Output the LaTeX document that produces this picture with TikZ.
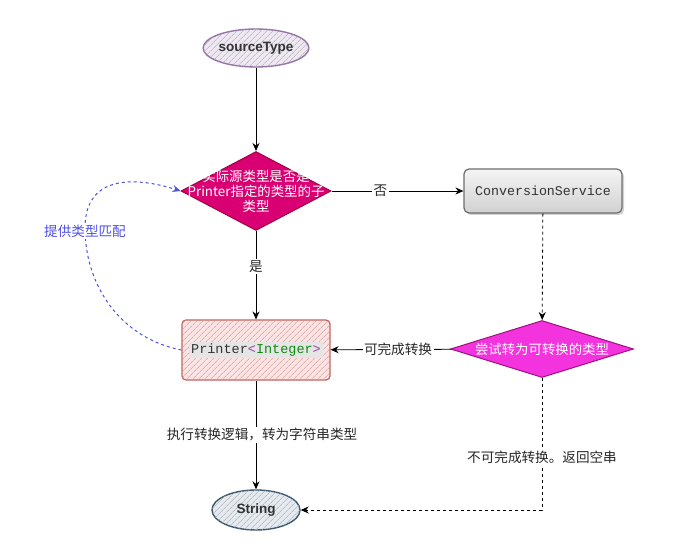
\documentclass[tikz,border=0pt]{standalone}
\usepackage{fontspec}
\setmainfont{Liberation Sans}
\setmonofont{Liberation Mono}
\newfontfamily\cjk{Noto Sans CJK SC}
\usetikzlibrary{shapes.geometric,arrows.meta,patterns.meta,shadows}
\definecolor{srcfill}{HTML}{EEE8F2}
\definecolor{srcdraw}{HTML}{9673A6}
\definecolor{strfill}{HTML}{E4EAEF}
\definecolor{strdraw}{HTML}{3E5A70}
\definecolor{prfill}{HTML}{FBE4E3}
\definecolor{prdraw}{HTML}{C06560}
\definecolor{dafill}{HTML}{D80073}
\definecolor{dadraw}{HTML}{A50040}
\definecolor{dbfill}{HTML}{F333DD}
\definecolor{dbdraw}{HTML}{A0107F}
\definecolor{csdraw}{HTML}{6E6E6E}
\definecolor{bluel}{HTML}{4F4FEA}
\definecolor{angle}{HTML}{9A3FA0}
\definecolor{intg}{HTML}{118811}
\tikzset{
  arr/.style={draw=black, line width=0.8pt, -{Stealth[length=8pt,width=7pt]}},
  dasharr/.style={arr, dash pattern=on 3pt off 3pt},
  lbl/.style={fill=white, inner sep=1.5pt, font=\cjk\fontsize{13.6}{15}\selectfont, text=black!85},
  hatch/.style={postaction={pattern={Lines[angle=45,distance=4pt,line width=0.5pt]}, pattern color=#1}},
  ovalbox/.style={ellipse, line width=1.4pt, inner sep=0pt, font=\fontsize{13.5}{15}\selectfont\bfseries, text=black!80},
  diam/.style={diamond, inner sep=0pt, line width=1pt},
}
\begin{document}
\begin{tikzpicture}[x=1pt,y=-1pt]
\useasboundingbox (0,0) rectangle (689,556);
\fill[white] (0,0) rectangle (689,556);

% nodes
\node[ovalbox, fill=srcfill, draw=srcdraw, hatch=black!35, minimum width=92, minimum height=38] (src) at (256,48) {sourceType};

\node[diam, fill=dafill, draw=dadraw, minimum width=150, minimum height=79] (d1) at (256,191) {};
\node[align=center, text=white, inner sep=0pt, font=\cjk\fontsize{13.4}{15}\selectfont] (d1t) at (d1) {实际源类型是否是\\Printer指定的类型的子\\类型};

\node[rectangle, rounded corners=5pt, draw=csdraw, line width=1.2pt, top color=white!96!black, bottom color=black!18, drop shadow={opacity=0.35, shadow xshift=2pt, shadow yshift=-2pt}, minimum width=158, minimum height=44, font=\ttfamily\fontsize{13.3}{15}\selectfont, text=black!80] (cs) at (543,191) {ConversionService};

\node[rectangle, rounded corners=4pt, draw=prdraw, line width=1.2pt, fill=prfill, hatch=prdraw!70, minimum width=148, minimum height=60] (pr) at (256,350) {};
\node[fill=black!10, inner sep=2pt, font=\ttfamily\fontsize{13.5}{15}\selectfont, text=black!80] (prt) at (pr) {Printer\textcolor{angle}{<}\textcolor{intg}{Integer}\textcolor{angle}{>}};

\node[diam, fill=dbfill, draw=dbdraw, minimum width=183, minimum height=57] (d2) at (542,349) {};
\node[text=white, inner sep=0pt, font=\cjk\fontsize{13.4}{15}\selectfont] (d2t) at (d2) {尝试转为可转换的类型};

\node[ovalbox, fill=strfill, draw=strdraw, hatch=black!35, minimum width=88, minimum height=40] (str) at (256,510) {String};

% connectors
\draw[arr] (src) -- (d1);
\draw[arr] (d1) -- node[lbl, pos=0.37] {否} (cs);
\draw[arr] (d1) -- node[lbl, pos=0.4] {是} (pr);
\draw[dasharr] (cs) -- (d2);
\draw[arr] (d2) -- node[lbl, pos=0.44] {可完成转换} (pr);
\draw[arr] (pr) -- node[lbl, pos=0.5, xshift=6pt] {执行转换逻辑，转为字符串类型} (str);
\draw[dasharr] (d2.south) |- node[lbl, pos=0.3] {不可完成转换。返回空串} (str.east);
\draw[line width=1pt, draw=bluel, dash pattern=on 3pt off 3pt, -{Stealth[length=8pt,width=7pt]}]
  (pr.west) .. controls (120,338) and (85,285) .. (85,228)
  node[lbl, text=bluel, pos=0.98] {提供类型匹配}
  .. controls (85,172) and (140,178) .. (d1.west);
\end{tikzpicture}
\end{document}
